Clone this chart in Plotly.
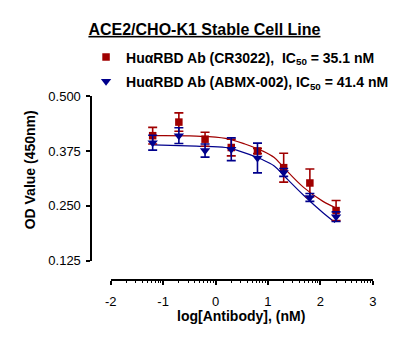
import math
import plotly.graph_objects as go

# ---------------- data ----------------
log_conc = [-1.2, -0.7, -0.2, 0.3, 0.8, 1.3, 1.8, 2.3]

cr3022_mean = [0.410, 0.441, 0.402, 0.383, 0.375, 0.337, 0.302, 0.239]
cr3022_err = [0.019, 0.021, 0.016, 0.019, 0.006, 0.033, 0.032, 0.023]

abmx_mean = [0.394, 0.410, 0.376, 0.379, 0.359, 0.326, 0.269, 0.225]
abmx_err = [0.017, 0.018, 0.015, 0.026, 0.034, 0.009, 0.009, 0.011]

cr3022_fit_x = [-1.19, -0.37, 0.19, 0.56, 0.88, 1.12, 1.31, 1.68, 2.05, 2.30]
cr3022_fit_y = [0.410, 0.409, 0.404, 0.391, 0.376, 0.360, 0.336, 0.292, 0.260, 0.245]

abmx_fit_x = [-1.19, -0.37, 0.19, 0.43, 0.88, 1.12, 1.31, 1.68, 2.05, 2.28]
abmx_fit_y = [0.389, 0.386, 0.383, 0.376, 0.356, 0.341, 0.318, 0.274, 0.234, 0.212]

x_ticks = [-2, -1, 0, 1, 2, 3]
x_ticktext = ["-2", "-1", "0", "1", "2", "3"]
y_ticks = [0.125, 0.250, 0.375, 0.500]
y_ticktext = ["0.125", "0.250", "0.375", "0.500"]

label_cr3022 = "<b>Hu\u03b1RBD Ab (CR3022),&nbsp; IC<sub>50</sub> = 35.1 nM</b>"
label_abmx = "<b>Hu\u03b1RBD Ab (ABMX-002), IC<sub>50</sub> = 41.4 nM</b>"

RED = "#A00000"
BLUE = "#00008C"
FONT = "Arial, Liberation Sans, sans-serif"

W, H = 420, 346

def px_x(p):
    return p / W

def px_y(p):
    return (H - p) / H

fig = go.Figure()

# fitted curves
fig.add_trace(go.Scatter(x=cr3022_fit_x, y=cr3022_fit_y, mode="lines",
                         line=dict(color=RED, width=1.2, shape="spline"),
                         showlegend=False, hoverinfo="skip", cliponaxis=False))
fig.add_trace(go.Scatter(x=abmx_fit_x, y=abmx_fit_y, mode="lines",
                         line=dict(color=BLUE, width=1.2, shape="spline"),
                         showlegend=False, hoverinfo="skip", cliponaxis=False))

# data points
fig.add_trace(go.Scatter(x=log_conc, y=cr3022_mean, mode="markers", name=label_cr3022,
                         legendgroup="a",
                         marker=dict(symbol="square", size=7.5, color=RED),
                         error_y=dict(type="data", array=cr3022_err, color=RED,
                                      thickness=1.6, width=4.5),
                         cliponaxis=False))
fig.add_trace(go.Scatter(x=log_conc, y=abmx_mean, mode="markers", name=label_abmx,
                         legendgroup="b",
                         marker=dict(symbol="triangle-down", size=9, color=BLUE),
                         error_y=dict(type="data", array=abmx_err, color=BLUE,
                                      thickness=1.6, width=4.5),
                         cliponaxis=False))

minor_vals = [d + math.log10(k) for d in range(-2, 3) for k in range(2, 10)]

fig.update_layout(
    width=W, height=H,
    margin=dict(l=0, r=0, t=0, b=0),
    paper_bgcolor="white", plot_bgcolor="white",
    font=dict(family=FONT, color="black", size=13),
    title=dict(text="<b>ACE2/CHO-K1 Stable Cell Line</b>",
               x=px_x(203.3), y=px_y(23.3), xanchor="center", yanchor="middle",
               xref="paper", yref="paper",
               font=dict(family=FONT, size=16, color="black", lineposition="under")),
    xaxis=dict(domain=[px_x(107.3), px_x(375.7)], range=[-2, 3],
               anchor="free", position=px_y(285.3),
               showgrid=False, zeroline=False,
               showline=True, linecolor="black", linewidth=1.5,
               ticks="outside", ticklen=4, tickwidth=1.5, tickcolor="black",
               tickmode="array", tickvals=x_ticks, ticktext=x_ticktext,
               ticklabelstandoff=6,
               tickfont=dict(size=13, family=FONT, color="black"),
               minor=dict(tickmode="array", tickvals=minor_vals, ticks="outside",
                          ticklen=2, tickwidth=1, tickcolor="black", showgrid=False)),
    yaxis=dict(domain=[px_y(265), px_y(93.3)], range=[0.125, 0.5],
               anchor="free", position=px_x(87.3),
               showgrid=False, zeroline=False,
               showline=True, linecolor="black", linewidth=1.5,
               ticks="outside", ticklen=4, tickwidth=1.5, tickcolor="black",
               tickmode="array", tickvals=y_ticks, ticktext=y_ticktext,
               ticklabelstandoff=3,
               tickfont=dict(size=13, family=FONT, color="black")),
    legend=dict(x=px_x(82), y=px_y(36), xanchor="left", yanchor="top",
                bgcolor="rgba(0,0,0,0)", borderwidth=0,
                font=dict(family=FONT, size=14, color="black"),
                tracegroupgap=3, itemclick=False, itemdoubleclick=False),
    annotations=[
        dict(text="<b>OD Value (450nm)</b>", x=px_x(24), y=px_y(170.3),
             xref="paper", yref="paper", textangle=-90, showarrow=False,
             xanchor="center", yanchor="middle",
             font=dict(family=FONT, size=14, color="black")),
        dict(text="<b>log[Antibody], (nM)</b>", x=px_x(240.3), y=px_y(323.3),
             xref="paper", yref="paper", showarrow=False,
             xanchor="center", yanchor="middle",
             font=dict(family=FONT, size=14, color="black")),
    ],
)

fig.write_html("out.html")
